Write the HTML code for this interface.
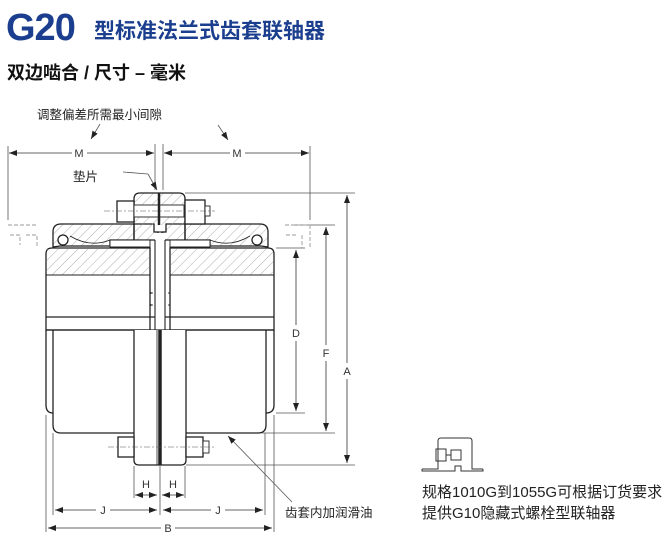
<!DOCTYPE html>
<html><head><meta charset="utf-8"><style>
html,body{margin:0;padding:0;background:#fff;width:672px;height:537px;overflow:hidden}
svg{display:block}
.t{font-family:"Liberation Sans","Noto Sans CJK SC",sans-serif}
</style></head><body>
<svg width="672" height="537" viewBox="0 0 672 537" xmlns="http://www.w3.org/2000/svg">
<defs>
<pattern id="h" width="7" height="7" patternUnits="userSpaceOnUse" patternTransform="rotate(45)">
<line x1="0" y1="0" x2="0" y2="7" stroke="#999" stroke-width="0.8"/>
</pattern>
<marker id="a" markerWidth="8" markerHeight="6" refX="8" refY="3" orient="auto" markerUnits="userSpaceOnUse"><path d="M0,0 L8,3 L0,6z" fill="#222"/></marker>
<marker id="b" markerWidth="8" markerHeight="6" refX="0" refY="3" orient="auto" markerUnits="userSpaceOnUse"><path d="M8,0 L0,3 L8,6z" fill="#222"/></marker>
</defs>
<text x="6" y="40" class="t" font-size="38" font-weight="bold" fill="#1b3f8e" letter-spacing="-1">G20</text>
<text x="94" y="38" class="t" font-size="21" font-weight="bold" fill="#1b3f8e">型标准法兰式齿套联轴器</text>
<text x="7" y="79" class="t" font-size="18" font-weight="bold" fill="#111">双边啮合 / 尺寸 – 毫米</text>

<g class="t" font-size="12.5" fill="#222">
<text x="37" y="119">调整偏差所需最小间隙</text>
<text x="73" y="181">垫片</text>
<text x="177" y="298">间隙</text>
<text x="285" y="517">齿套内加润滑油</text>
</g>
<g class="t" font-size="11" fill="#333" text-anchor="middle">
<text x="79" y="157">M</text><text x="237" y="157">M</text>
<text x="98" y="309">C</text><text x="221" y="309">C</text>
<text x="296" y="337">D</text><text x="326" y="357">F</text><text x="347" y="375">A</text>
<text x="146" y="488">H</text><text x="173" y="488">H</text>
<text x="103" y="514">J</text><text x="218" y="514">J</text>
<text x="168" y="532">B</text>
</g>

<g stroke="#555" stroke-width="0.8" fill="none">
<line x1="8" y1="146" x2="8" y2="220"/><line x1="310" y1="146" x2="310" y2="220"/>
<line x1="155" y1="144" x2="155" y2="190"/><line x1="163" y1="144" x2="163" y2="190"/>
<line x1="185" y1="193" x2="355" y2="193"/>
<line x1="292" y1="225" x2="335" y2="225"/>
<line x1="276" y1="248" x2="305" y2="248"/>
<line x1="276" y1="413" x2="305" y2="413"/>
<line x1="262" y1="433" x2="335" y2="433"/>
<line x1="186" y1="465" x2="355" y2="465"/>
<line x1="46" y1="415" x2="46" y2="532"/><line x1="274" y1="415" x2="274" y2="532"/>
<line x1="53" y1="433" x2="53" y2="515"/><line x1="265" y1="433" x2="265" y2="515"/>
<line x1="134" y1="466" x2="134" y2="498"/><line x1="185" y1="466" x2="185" y2="498"/>
<line x1="160" y1="466" x2="160" y2="515"/>
<line x1="100" y1="124" x2="91" y2="139" marker-end="url(#a)"/>
<line x1="218" y1="125" x2="228" y2="140" marker-end="url(#a)"/>
<line x1="123" y1="172" x2="148" y2="174"/><line x1="148" y1="174" x2="157" y2="190" marker-end="url(#a)"/>
<line x1="292" y1="502" x2="228" y2="436" marker-end="url(#a)"/>
</g>
<g stroke="#333" stroke-width="0.8" fill="none">
<line x1="9" y1="153" x2="72" y2="153" marker-start="url(#b)"/><line x1="87" y1="153" x2="154" y2="153" marker-end="url(#a)"/>
<line x1="164" y1="153" x2="230" y2="153" marker-start="url(#b)"/><line x1="245" y1="153" x2="309" y2="153" marker-end="url(#a)"/>
<line x1="48" y1="305" x2="91" y2="305" marker-start="url(#b)"/><line x1="105" y1="305" x2="153" y2="305" marker-end="url(#a)"/>
<line x1="168" y1="305" x2="214" y2="305" marker-start="url(#b)"/><line x1="228" y1="305" x2="272" y2="305" marker-end="url(#a)"/>
<line x1="143" y1="293" x2="153" y2="293" marker-end="url(#a)"/><line x1="168" y1="293" x2="176" y2="293" marker-start="url(#b)"/>
<line x1="296" y1="250" x2="296" y2="325" marker-start="url(#b)"/><line x1="296" y1="341" x2="296" y2="411" marker-end="url(#a)"/>
<line x1="326" y1="227" x2="326" y2="345" marker-start="url(#b)"/><line x1="326" y1="361" x2="326" y2="431" marker-end="url(#a)"/>
<line x1="347" y1="195" x2="347" y2="363" marker-start="url(#b)"/><line x1="347" y1="379" x2="347" y2="463" marker-end="url(#a)"/>
<line x1="135" y1="495" x2="157" y2="495" marker-end="url(#a)" marker-start="url(#b)"/>
<line x1="162" y1="495" x2="184" y2="495" marker-end="url(#a)" marker-start="url(#b)"/>
<line x1="55" y1="510" x2="96" y2="510" marker-start="url(#b)"/><line x1="110" y1="510" x2="157" y2="510" marker-end="url(#a)"/>
<line x1="163" y1="510" x2="211" y2="510" marker-start="url(#b)"/><line x1="225" y1="510" x2="263" y2="510" marker-end="url(#a)"/>
<line x1="48" y1="528" x2="161" y2="528" marker-start="url(#b)"/><line x1="175" y1="528" x2="272" y2="528" marker-end="url(#a)"/>
</g>

<g stroke="#999" stroke-width="0.9" fill="none" stroke-dasharray="4,2">
<path d="M8,225 H37 M10,235 H20 V245 M26,235 H37 V248"/>
<path d="M285,225 H310 M286,235 H296 M302,235 V248 M310,225 V248"/>
</g>

<g stroke="#222" stroke-width="1.3">
<path d="M53,330 V425 Q53,433 61,433 H258 Q266,433 266,425 V330" fill="#fff"/>
<path d="M46,330 V405 Q46,413 53,413 M274,330 V405 Q274,413 266,413" fill="none"/>
<path d="M46,330 V254 Q46,248 52,248 H150 V330 Z" fill="#fff"/>
<path d="M274,330 V254 Q274,248 268,248 H170 V330 Z" fill="#fff"/>
<rect x="47" y="249" width="102" height="26" fill="url(#h)" stroke="none"/>
<rect x="171" y="249" width="102" height="26" fill="url(#h)" stroke="none"/>
<line x1="46" y1="275" x2="150" y2="275" stroke-width="0.9"/><line x1="170" y1="275" x2="274" y2="275" stroke-width="0.9"/>
<line x1="46" y1="317" x2="274" y2="317"/>
<line x1="46" y1="330" x2="274" y2="330"/>
<path d="M53,247 V232 Q53,224 61,224 H134 V240 H110 V246 H60 Z" fill="url(#h)"/>
<path d="M268,247 V232 Q268,224 260,224 H185 V240 H210 V246 H261 Z" fill="url(#h)"/>
<path d="M134,224 H154 V232 H158 V240 H134 Z" fill="url(#h)"/>
<path d="M185,224 H166 V232 H162 V240 H185 Z" fill="url(#h)"/>
<path d="M110,240 V247 H150 V240 Z M210,240 V247 H170 V240 Z" fill="#fff" stroke-width="0.9"/>
<circle cx="63" cy="240" r="5" fill="#fff"/><circle cx="257" cy="240" r="5" fill="#fff"/>
<path d="M70,236 Q90,248 110,240 M250,236 Q230,248 210,240" fill="none" stroke-width="0.9"/>
<path d="M134,225 V199 Q134,193 140,193 H179 Q185,193 185,199 V225" fill="url(#h)"/>
<rect x="117" y="201" width="17" height="21" fill="#fff"/>
<rect x="185" y="200" width="20" height="24" fill="#fff"/>
<rect x="134" y="205" width="50" height="12" fill="#fff" stroke-width="0.9"/>
<rect x="205" y="206" width="5" height="10" fill="#fff" stroke-width="0.9"/>
<line x1="159" y1="193" x2="159" y2="225" stroke-width="2.5"/>
<path d="M134,330 V460 Q134,465 139,465 H181 Q186,465 186,460 V330" fill="#fff"/>
<line x1="160" y1="330" x2="160" y2="465" stroke-width="3.5"/>
<line x1="157" y1="330" x2="157" y2="465" stroke-width="0.8"/>
<rect x="118" y="437" width="16" height="20" fill="#fff"/>
<rect x="186" y="437" width="17" height="20" fill="#fff"/>
<rect x="203" y="441" width="6" height="12" fill="#fff" stroke-width="0.9"/>
</g>
<rect x="155" y="233" width="10" height="96" fill="#fff"/>
<g stroke="#222" stroke-width="1.1"><line x1="155" y1="240" x2="155" y2="330"/><line x1="165" y1="240" x2="165" y2="330"/><line x1="155" y1="232" x2="165" y2="232"/></g>
<g stroke="#555" stroke-width="0.6" stroke-dasharray="6,2,2,2">
<line x1="104" y1="211" x2="215" y2="211"/><line x1="108" y1="447" x2="215" y2="447"/>
</g>

<g stroke="#333" stroke-width="1" fill="none">
<path d="M422,469 H438 V441 Q438,438 441,438 H469 Q472,438 472,441 V469 H483 M422,469 V471 H455 V466 H461 V471 H483 V469"/>
<rect x="436" y="449" width="10" height="12"/><rect x="451" y="450" width="10" height="10"/>
<line x1="446" y1="455" x2="451" y2="455"/>
</g>
<g class="t" font-size="15" fill="#222">
<text x="422" y="497">规格1010G到1055G可根据订货要求</text>
<text x="422" y="518">提供G10隐藏式螺栓型联轴器</text>
</g>
</svg>
</body></html>
